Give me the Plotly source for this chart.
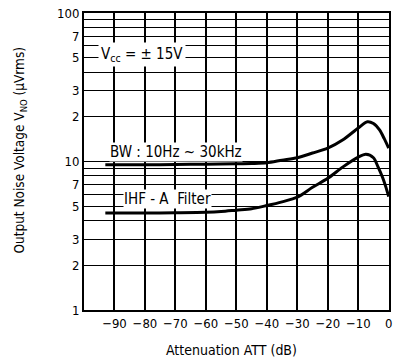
import plotly.graph_objects as go

# Data
bw_x = [-93, -80, -70, -60, -50, -45, -40, -35, -30, -25, -20, -15, -10, -7, -5, -3, -1.5, 0]
bw_y = [9.5, 9.5, 9.55, 9.6, 9.65, 9.7, 9.8, 10.2, 10.6, 11.4, 12.3, 14.0, 16.8, 18.5, 18.0, 16.3, 14.3, 12.3]

ihf_x = [-93, -80, -70, -60, -55, -50, -45, -40, -35, -30, -25, -20, -15, -10, -7.5, -5, -3.5, -2, -1, 0]
ihf_y = [4.5, 4.5, 4.52, 4.55, 4.6, 4.7, 4.8, 5.05, 5.35, 5.75, 6.7, 7.7, 9.2, 10.7, 11.2, 10.6, 9.2, 7.8, 6.8, 5.8]

x_tickvals = [-90, -80, -70, -60, -50, -40, -30, -20, -10, 0]
x_ticktext = ["\u221290", "\u221280", "\u221270", "\u221260", "\u221250",
              "\u221240", "\u221230", "\u221220", "\u221210", "0"]

y_tickvals = [1, 2, 3, 4, 5, 6, 7, 8, 9, 10, 20, 30, 40, 50, 60, 70, 80, 90, 100]
y_ticktext = ["1", "2", "3", "", "5", "", "7", "", "", "10", "2", "3", "", "5", "", "7", "", "", "100"]

FONT = "DejaVu Sans Condensed, Liberation Sans Narrow, Liberation Sans, sans-serif"

fig = go.Figure()
fig.add_trace(go.Scatter(x=bw_x, y=bw_y, mode="lines",
                         line=dict(color="black", width=3, shape="spline", smoothing=0.8),
                         showlegend=False, hoverinfo="skip"))
fig.add_trace(go.Scatter(x=ihf_x, y=ihf_y, mode="lines",
                         line=dict(color="black", width=3, shape="spline", smoothing=0.8),
                         showlegend=False, hoverinfo="skip"))

fig.add_annotation(x=-81, y=1.72, xref="x", yref="y",
                   text="V<sub>cc</sub> = \u00b1 15V", showarrow=False,
                   font=dict(family=FONT, size=15, color="black"),
                   bgcolor="white", borderpad=2)
fig.add_annotation(x=-69.7, y=1.064, xref="x", yref="y",
                   text="BW : 10Hz ~ 30kHz", showarrow=False,
                   font=dict(family=FONT, size=15, color="black"),
                   bgcolor="white", borderpad=0)
fig.add_annotation(x=-72.5, y=0.747, xref="x", yref="y",
                   text="IHF - A  Filter", showarrow=False,
                   font=dict(family=FONT, size=15, color="black"),
                   bgcolor="white", borderpad=0)

# Axis titles
fig.add_annotation(x=0.482, y=-0.135, xref="paper", yref="paper",
                   text="Attenuation ATT (dB)", showarrow=False,
                   xanchor="center", yanchor="middle",
                   font=dict(family=FONT, size=14, color="black"))
fig.add_annotation(x=-0.21, y=0.54, xref="paper", yref="paper",
                   text="Output Noise Voltage V<sub>NO</sub> (\u03bcVrms)", showarrow=False,
                   xanchor="center", yanchor="middle", textangle=-90,
                   font=dict(family=FONT, size=13.5, color="black"))

fig.update_layout(
    width=397, height=364,
    margin=dict(l=84, r=8, t=13, b=54),
    paper_bgcolor="white", plot_bgcolor="white",
    font=dict(family=FONT, size=13, color="black"),
    xaxis=dict(range=[-100, 0.1], tickvals=x_tickvals, ticktext=x_ticktext,
               showgrid=True, gridcolor="black", gridwidth=1.5,
               showline=True, linecolor="black", linewidth=2, mirror=True,
               zeroline=False, ticks="", automargin=False, ticklabeloverflow="allow"),
    yaxis=dict(type="log", range=[0, 2], tickvals=y_tickvals, ticktext=y_ticktext,
               showgrid=True, gridcolor="black", gridwidth=1.3,
               showline=True, linecolor="black", linewidth=2, mirror=True,
               zeroline=False, ticks="", automargin=False, ticklabeloverflow="allow"),
)

fig.write_html("out.html", config={"displayModeBar": False},
               post_script="document.body.style.margin='0';")
